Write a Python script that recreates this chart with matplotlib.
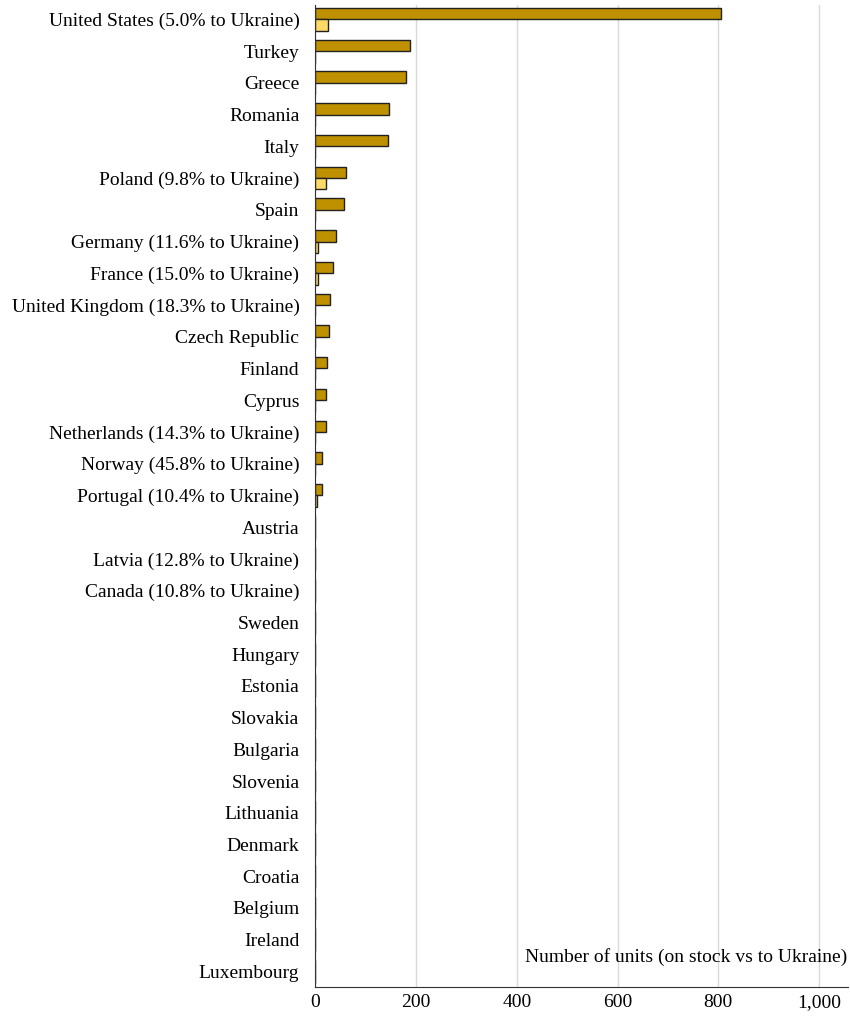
import numpy as np
import matplotlib.pyplot as plt

plt.rcParams['font.family'] = ['Liberation Serif', 'DejaVu Serif']

# Countries, top to bottom
countries = ['United States (5.0% to Ukraine)', 'Turkey', 'Greece', 'Romania', 'Italy',
             'Poland (9.8% to Ukraine)', 'Spain', 'Germany (11.6% to Ukraine)',
             'France (15.0% to Ukraine)', 'United Kingdom (18.3% to Ukraine)',
             'Czech Republic', 'Finland', 'Cyprus', 'Netherlands (14.3% to Ukraine)',
             'Norway (45.8% to Ukraine)', 'Portugal (10.4% to Ukraine)', 'Austria',
             'Latvia (12.8% to Ukraine)', 'Canada (10.8% to Ukraine)', 'Sweden', 'Hungary',
             'Estonia', 'Slovakia', 'Bulgaria', 'Slovenia', 'Lithuania', 'Denmark',
             'Croatia', 'Belgium', 'Ireland', 'Luxembourg']

# Units on stock
on_stock = [806, 188, 179, 147, 145, 61, 57, 41, 35, 30, 28, 24, 22, 22, 13, 13,
            0, 0, 0, 0, 0, 0, 0, 0, 0, 0, 0, 0, 0, 0, 0]

# Units delivered to Ukraine
to_ukraine = [26, 0, 0, 0, 0, 21, 0, 5, 6, 0, 0, 0, 0, 0, 0, 3,
              0, 0, 0, 0, 0, 0, 0, 0, 0, 0, 0, 0, 0, 0, 0]

y = np.arange(len(countries))
h = 0.36

fig, ax = plt.subplots(figsize=(8.5, 10.21), dpi=100)
fig.subplots_adjust(left=0.371, right=0.998, top=0.995, bottom=0.033)

ax.barh(y, on_stock, height=-h, align='edge', color='#BF9000', edgecolor='#222222', linewidth=1)
ax.barh(y, to_ukraine, height=h, align='edge', color='#FFD966', edgecolor='#222222', linewidth=1)

ax.set_yticks(y)
ax.set_yticklabels(countries, fontsize=14)
ax.set_ylim(len(countries) - 0.5, -0.45)
ax.set_xlim(0, 1058)
ax.set_xticks([0, 200, 400, 600, 800, 1000])
ax.set_xticklabels(['0', '200', '400', '600', '800', '1,000'], fontsize=14)
ax.tick_params(axis='both', length=0)
ax.tick_params(axis='x', pad=5)
ax.tick_params(axis='y', pad=11.5)

ax.grid(axis='x', color='#d9d9d9', linewidth=1)
ax.set_axisbelow(True)
for s in ['top', 'right']:
    ax.spines[s].set_visible(False)
ax.spines['left'].set_color('#333333')
ax.spines['bottom'].set_color('#333333')

ax.text(0.998, 0.022, 'Number of units (on stock vs to Ukraine)', transform=ax.transAxes,
        ha='right', va='bottom', fontsize=14)

plt.savefig('out.png')
